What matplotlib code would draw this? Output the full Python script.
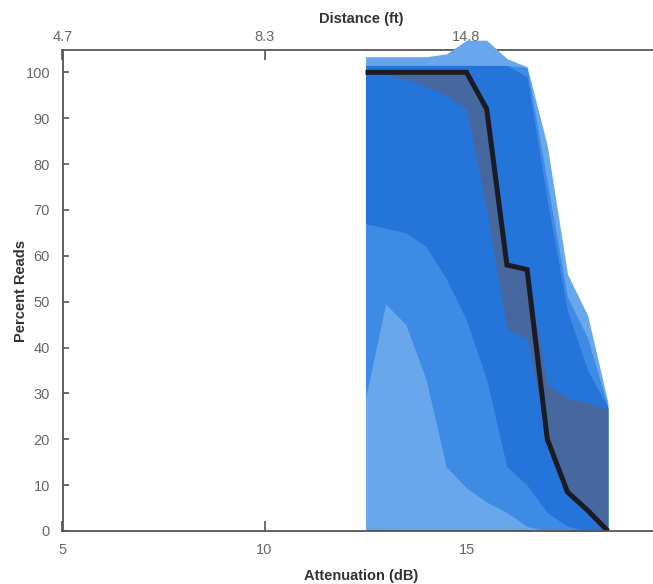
import matplotlib
matplotlib.use("Agg")
import matplotlib.pyplot as plt

plt.rcParams['font.family'] = ['Liberation Sans', 'DejaVu Sans']

# ---- data ----
attenuation = [12.5, 13.0, 13.5, 14.0, 14.5, 15.0, 15.5, 16.0, 16.5, 17.0, 17.5, 18.0, 18.5]
median_reads = [100, 100, 100, 100, 100, 100, 92, 58, 57, 20, 8.5, 4.5, 0]

outer_hi = [103.4, 103.4, 103.4, 103.4, 104, 107, 107, 103, 101.2, 84, 56, 47, 28]
outer_lo = [0, 0, 0, 0, 0, 0, 0, 0, 0, 0, 0, 0, 0]
mid_lo = [29, 49.5, 45, 33, 14, 9.4, 6.3, 4, 1, 0, 0, 0, 0]
mid_hi = [101.5, 101.5, 101.5, 101.5, 101.5, 101.5, 101.5, 101.5, 101, 76, 51, 42, 27]
inner_lo = [67, 66, 65, 62, 55, 46, 33, 14, 10, 4, 1, 0, 0]
inner_hi = [101.5, 101.5, 101.5, 101.5, 101.5, 101.5, 101.5, 101.5, 99, 72, 48, 35, 27]
iqr_lo = [100, 99.5, 98.5, 97, 95, 92, 70, 44, 42, 20, 8.5, 4.5, 0]
iqr_hi = [100, 100, 100, 100, 100, 100, 92, 58, 57, 32, 29, 28, 26.5]

bottom_ticks = [5, 10, 15]
bottom_labels = ['5', '10', '15']
top_ticks = [5, 10, 15]
top_labels = ['4.7', '8.3', '14.8']
y_ticks = list(range(0, 101, 10))

# ---- figure ----
W, H = 653, 584
fig = plt.figure(figsize=(W / 100, H / 100), dpi=100)
x0, x1 = 62.5, 660.0
y0, y1 = 531.0, 50.0
rect = [x0 / W, (H - y0) / H, (x1 - x0) / W, (y0 - y1) / H]
xlim = (5, 5 + (x1 - x0) / 40.4)
ylim = (0, (y0 - y1) / 4.587)

# top (distance) axis drawn underneath the data axes
ax2 = fig.add_axes(rect, zorder=0)
ax2.set_xlim(xlim)
ax2.set_ylim(ylim)
ax2.xaxis.set_ticks_position('top')
ax2.xaxis.set_label_position('top')
ax2.set_xticks(top_ticks)
ax2.set_xticklabels(top_labels)
ax2.set_yticks([])
ax2.tick_params(axis='x', direction='in', colors='#555555', labelcolor='#666666',
                labelsize=10.5, length=7, width=1.2, pad=4)
for s in ['left', 'bottom', 'right']:
    ax2.spines[s].set_visible(False)
ax2.spines['top'].set_color('#555555')
ax2.spines['top'].set_linewidth(1.3)
ax2.set_xlabel('Distance (ft)', fontsize=10.5, fontweight='bold', color='#333333', labelpad=5)

ax = fig.add_axes(rect, zorder=1)
ax.patch.set_visible(False)
ax.set_xlim(xlim)
ax.set_ylim(ylim)

c_outer = '#68a7ec'
c_mid = '#3d8be4'
c_inner = '#2574d9'
c_iqr = '#52658a'

ax.fill_between(attenuation, outer_lo, outer_hi, color=c_outer, lw=0, zorder=3, clip_on=False)
ax.fill_between(attenuation, mid_lo, mid_hi, color=c_mid, lw=0, zorder=3.1)
ax.fill_between(attenuation, inner_lo, inner_hi, color=c_inner, lw=0, zorder=3.2)
ax.fill_between(attenuation, iqr_lo, iqr_hi, color=c_iqr, alpha=0.75, lw=0, zorder=3.3)
ax.plot(attenuation, median_reads, color='#1b1b24', lw=3.6, zorder=4,
        solid_joinstyle='miter', solid_capstyle='butt')

for s in ['left', 'bottom']:
    ax.spines[s].set_color('#555555')
    ax.spines[s].set_linewidth(1.3)
    ax.spines[s].set_zorder(5)
ax.spines['right'].set_visible(False)
ax.spines['top'].set_visible(False)

ax.set_xticks(bottom_ticks)
ax.set_xticklabels(bottom_labels)
ax.set_yticks(y_ticks)
ax.tick_params(axis='both', direction='in', colors='#555555', labelcolor='#666666',
               labelsize=10.5, width=1.2)
ax.tick_params(axis='x', length=7, pad=9)
ax.tick_params(axis='y', length=4, pad=9)

ax.set_xlabel('Attenuation (dB)', fontsize=10.5, fontweight='bold', color='#333333', labelpad=8)
ax.set_ylabel('Percent Reads', fontsize=10.5, fontweight='bold', color='#333333', labelpad=-2)

fig.savefig('out.png', dpi=100)
